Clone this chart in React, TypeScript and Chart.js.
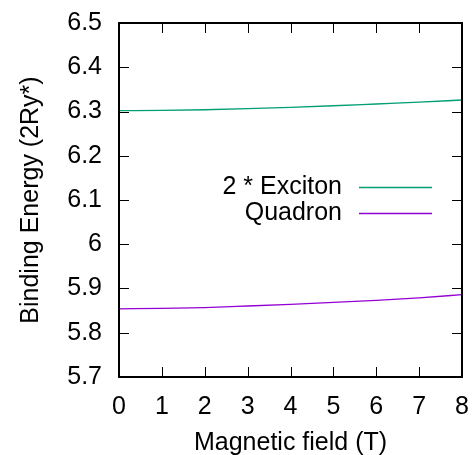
import React, { useEffect, useRef } from "react";
import { Chart, registerables } from "chart.js";

Chart.register(...registerables);

const fieldT = [0, 1, 2, 3, 4, 5, 6, 7, 8];
const excitonX2 = [6.302, 6.3025, 6.304, 6.3065, 6.3095, 6.313, 6.317, 6.321, 6.326];
const quadron = [5.854, 5.855, 5.857, 5.8605, 5.8643, 5.8685, 5.873, 5.879, 5.886];
const seriesNames = ["2 * Exciton", "Quadron"];
const seriesColors = ["#009e73", "#9400d3"];
const xTicks = [0, 1, 2, 3, 4, 5, 6, 7, 8];
const yTicks = [5.7, 5.8, 5.9, 6.0, 6.1, 6.2, 6.3, 6.4, 6.5];

const FONT = "'Liberation Sans', Arial, Helvetica, sans-serif";
const FS = 25;

const zeroPad = (s: any) => {
  s.paddingTop = 0;
  s.paddingBottom = 0;
  s.paddingLeft = 0;
  s.paddingRight = 0;
};

const framePlugin = {
  id: "gnuplotFrame",
  afterDatasetsDraw(chart: any) {
    const { ctx, chartArea: a, scales } = chart;
    const xs = scales.x;
    const ys = scales.y;
    ctx.save();
    ctx.strokeStyle = "#000";
    ctx.lineWidth = 1;
    const L = 10;
    ctx.beginPath();
    for (const v of xTicks) {
      const px = Math.round(xs.getPixelForValue(v)) + 0.5;
      ctx.moveTo(px, a.bottom);
      ctx.lineTo(px, a.bottom - L);
      ctx.moveTo(px, a.top);
      ctx.lineTo(px, a.top + L);
    }
    for (const v of yTicks) {
      const py = Math.round(ys.getPixelForValue(v)) + 0.5;
      ctx.moveTo(a.left, py);
      ctx.lineTo(a.left + L, py);
      ctx.moveTo(a.right, py);
      ctx.lineTo(a.right - L, py);
    }
    ctx.stroke();
    ctx.lineWidth = 2;
    ctx.strokeRect(a.left, a.top, a.right - a.left, a.bottom - a.top);

    // key
    ctx.font = `${FS}px ${FONT}`;
    ctx.fillStyle = "#000";
    ctx.textAlign = "right";
    ctx.textBaseline = "middle";
    const keyY = [187, 213];
    seriesNames.forEach((name, i) => {
      ctx.fillText(name, 342, keyY[i]);
    });
    seriesNames.forEach((_name, i) => {
      ctx.beginPath();
      ctx.strokeStyle = seriesColors[i];
      ctx.lineWidth = 1.5;
      ctx.moveTo(359, keyY[i] + 0.5);
      ctx.lineTo(432, keyY[i] + 0.5);
      ctx.stroke();
    });
    ctx.restore();
  },
};

export default function App() {
  const ref = useRef<HTMLCanvasElement | null>(null);
  useEffect(() => {
    if (!ref.current) return;
    const chart = new Chart(ref.current, {
      type: "line",
      data: {
        datasets: [
          {
            label: seriesNames[0],
            data: fieldT.map((x, i) => ({ x, y: excitonX2[i] })),
            borderColor: seriesColors[0],
            borderWidth: 1.3,
            pointRadius: 0,
            cubicInterpolationMode: "monotone",
          },
          {
            label: seriesNames[1],
            data: fieldT.map((x, i) => ({ x, y: quadron[i] })),
            borderColor: seriesColors[1],
            borderWidth: 1.3,
            pointRadius: 0,
            cubicInterpolationMode: "monotone",
          },
        ],
      },
      options: {
        animation: false,
        responsive: false,
        devicePixelRatio: 1,
        layout: { padding: { left: 0, right: 13, top: 23, bottom: 0 } },
        plugins: { legend: { display: false }, tooltip: { enabled: false } },
        scales: {
          x: {
            type: "linear",
            min: 0,
            max: 8,
            afterFit: (s: any) => {
              s.height = 78;
              zeroPad(s);
            },
            afterBuildTicks: (s: any) => {
              s.ticks = xTicks.map((v) => ({ value: v }));
            },
            ticks: {
              color: "#000",
              font: { family: FONT, size: FS },
              padding: 15,
              maxRotation: 0,
              autoSkip: false,
            },
            grid: { display: false, drawTicks: false },
            border: { display: false },
            title: {
              display: true,
              text: "Magnetic field (T)",
              color: "#000",
              font: { family: FONT, size: FS },
              padding: { top: 0, bottom: -3 },
            },
          },
          y: {
            type: "linear",
            min: 5.7,
            max: 6.5,
            afterFit: (s: any) => {
              s.width = 119;
              zeroPad(s);
            },
            afterBuildTicks: (s: any) => {
              s.ticks = yTicks.map((v) => ({ value: v }));
            },
            ticks: {
              color: "#000",
              font: { family: FONT, size: FS },
              padding: 17,
              autoSkip: false,
              callback: (v: any) => String(Number(Number(v).toFixed(1))),
            },
            grid: { display: false, drawTicks: false },
            border: { display: false },
            title: {
              display: true,
              text: "Binding Energy (2Ry*)",
              color: "#000",
              font: { family: FONT, size: FS },
              padding: { top: 16, bottom: 0 },
            },
          },
        },
      },
      plugins: [framePlugin],
    } as any);
    return () => chart.destroy();
  }, []);
  return (
    <div style={{ position: "fixed", left: 0, top: 0, width: 475, height: 455, background: "#fff" }}>
      <canvas ref={ref} width={475} height={455} style={{ display: "block" }} />
    </div>
  );
}
